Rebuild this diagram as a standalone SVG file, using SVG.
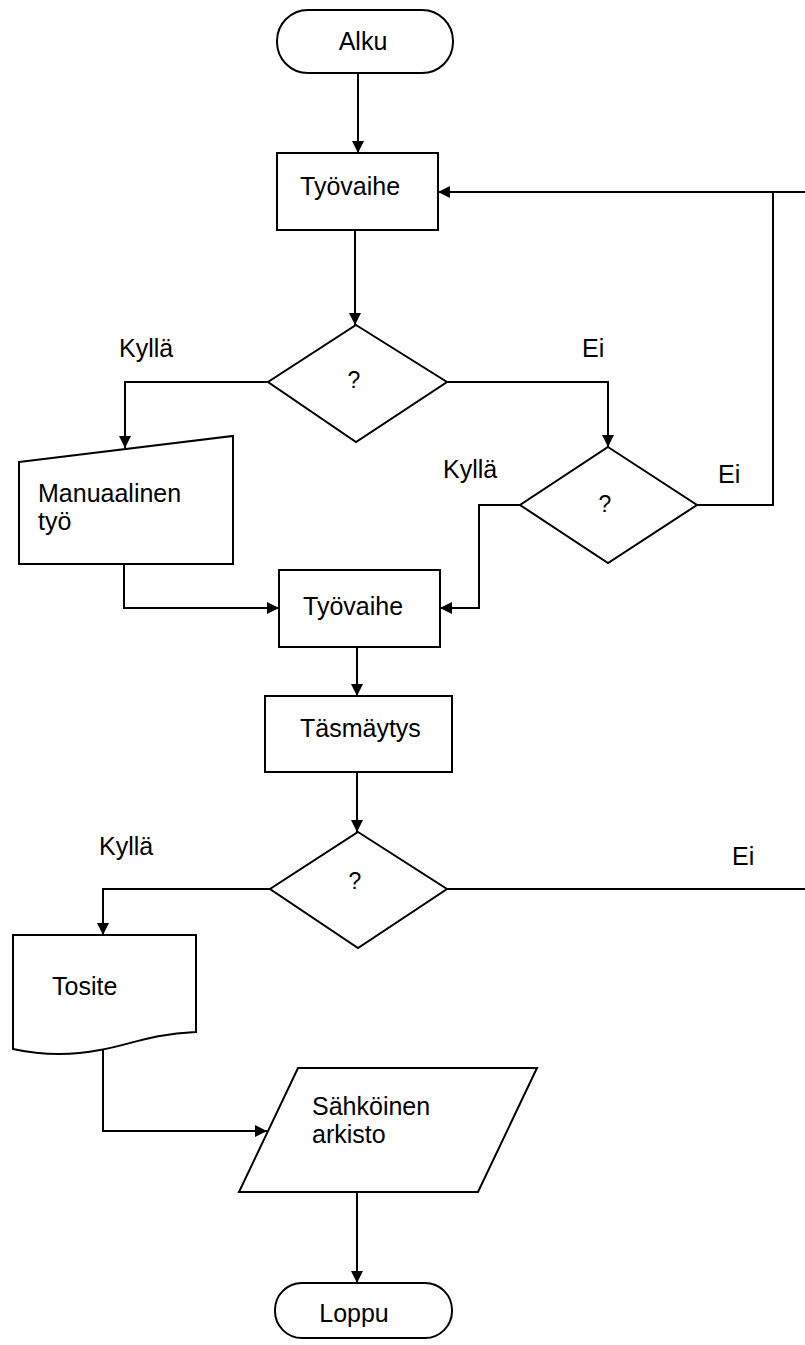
<svg xmlns="http://www.w3.org/2000/svg" width="805" height="1345" viewBox="0 0 805 1345">
<style>
.s{fill:#fff;stroke:#000;stroke-width:2}
.c{fill:none;stroke:#000;stroke-width:2}
text{font-family:"Liberation Sans",Arial,sans-serif;font-size:25px;fill:#000}
.m{text-anchor:middle}
.q{font-size:23px;text-anchor:middle}
</style>
<defs>
<marker id="a" viewBox="0 0 10 10" refX="10" refY="5" markerWidth="12" markerHeight="12" markerUnits="userSpaceOnUse" orient="auto">
<path d="M0,0 L10,5 L0,10 z" fill="#000"/>
</marker>
</defs>
<rect width="805" height="1345" fill="#fff"/>
<g id="connectors">
<path class="c" d="M358,73 V153" marker-end="url(#a)"/>
<path class="c" d="M805,192 H438" marker-end="url(#a)"/>
<path class="c" d="M697,505 H773 V192"/>
<path class="c" d="M355,230 V325" marker-end="url(#a)"/>
<path class="c" d="M268,382 H125 V448" marker-end="url(#a)"/>
<path class="c" d="M447,382 H608 V447" marker-end="url(#a)"/>
<path class="c" d="M520,505 H479 V608 H440" marker-end="url(#a)"/>
<path class="c" d="M124,564 V608 H279" marker-end="url(#a)"/>
<path class="c" d="M357,647 V696" marker-end="url(#a)"/>
<path class="c" d="M357,772 V832" marker-end="url(#a)"/>
<path class="c" d="M270,889 H103 V935" marker-end="url(#a)"/>
<path class="c" d="M447,889 H805"/>
<path class="c" d="M103,1049 V1131 H267" marker-end="url(#a)"/>
<path class="c" d="M357,1192 V1283" marker-end="url(#a)"/>
<text x="119" y="357">Kyllä</text>
<text x="582" y="357">Ei</text>
<text x="443" y="478">Kyllä</text>
<text x="718" y="483">Ei</text>
<text x="99" y="855">Kyllä</text>
<text x="732" y="865">Ei</text>
</g>
<g id="alku">
<rect class="s" x="277" y="10" width="176" height="63" rx="31"/>
<text class="m" x="363" y="50">Alku</text>
</g>
<g id="tyovaihe1">
<rect class="s" x="277" y="153" width="161" height="77"/>
<text x="300" y="195">Työvaihe</text>
</g>
<g id="paatos1">
<polygon class="s" points="356,325 447,382 356,442 268,382"/>
<text class="q" x="354" y="388">?</text>
</g>
<g id="manuaalinen">
<polygon class="s" points="19,462 233,436 233,564 19,564"/>
<text x="38" y="502">Manuaalinen</text>
<text x="38" y="530">työ</text>
</g>
<g id="paatos2">
<polygon class="s" points="608,447 697,505 608,563 520,505"/>
<text class="q" x="605" y="512">?</text>
</g>
<g id="tyovaihe2">
<rect class="s" x="279" y="570" width="161" height="77"/>
<text x="303" y="615">Työvaihe</text>
</g>
<g id="tasmaytys">
<rect class="s" x="265" y="696" width="187" height="76"/>
<text x="300" y="737">Täsmäytys</text>
</g>
<g id="paatos3">
<polygon class="s" points="358,832 447,889 358,948 270,889"/>
<text class="q" x="355" y="889">?</text>
</g>
<g id="tosite">
<path class="s" d="M13,935 H196 V1032 C150,1034 130,1045 100,1050 C70,1056 40,1055 13,1049 Z"/>
<text x="52" y="995">Tosite</text>
</g>
<g id="arkisto">
<polygon class="s" points="298,1068 537,1068 478,1192 239,1192"/>
<text x="312" y="1115">Sähköinen</text>
<text x="312" y="1143">arkisto</text>
</g>
<g id="loppu">
<rect class="s" x="275" y="1283" width="177" height="55" rx="27"/>
<text class="m" x="354" y="1322">Loppu</text>
</g>
</svg>
